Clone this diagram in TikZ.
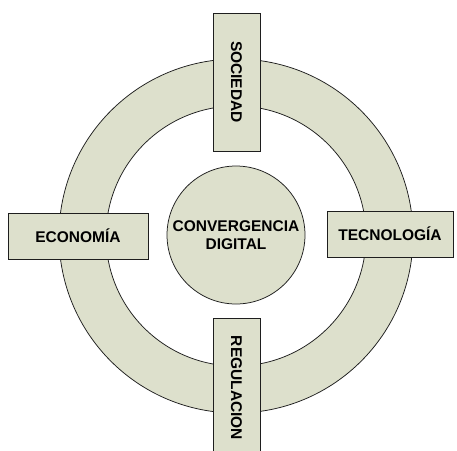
\documentclass[tikz,border=0pt]{standalone}
\usepackage{fontspec}
\setmainfont{Liberation Sans}
\begin{document}
\begin{tikzpicture}[x=1pt,y=-1pt,
  fillc/.style={fill={rgb,255:red,221;green,224;blue,204}},
  edge/.style={draw={rgb,255:red,30;green,30;blue,30},line width=0.75pt},
  lbl/.style={font=\fontsize{15.5}{17.5}\selectfont\bfseries,align=center,text=black},
  box/.style={fillc,edge}]
\useasboundingbox (0,0) rectangle (457,450);
\clip (0,0) rectangle (457,450);
% ring
\path[fillc,even odd rule] (236,236) circle[radius=177] (236,236) circle[radius=130];
\draw[edge] (236,236) circle[radius=177];
\draw[edge] (236,236) circle[radius=130];
% centre
\node[box,circle,minimum size=138pt,inner sep=0pt,lbl] (c) at (236,235) {CONVERGENCIA\\DIGITAL};
% boxes
\draw[box] (213,13) rectangle (260,151);
\node[lbl,rotate=-90] (s) at (236.5,82) {SOCIEDAD};
\draw[box] (213,318) rectangle (260,460);
\node[lbl,rotate=-90] (r) at (236.5,388) {REGULACION};
\draw[box] (8,213) rectangle (148,259);
\node[lbl] (e) at (78,236) {ECONOMÍA};
\draw[box] (327,211) rectangle (453,257);
\node[lbl] (t) at (390,234) {TECNOLOGÍA};
\end{tikzpicture}
\end{document}
